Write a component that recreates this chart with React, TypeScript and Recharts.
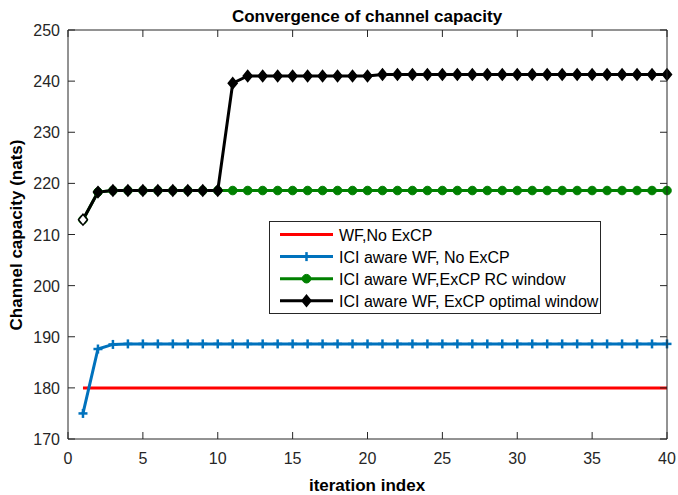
import { LineChart, Line, XAxis, YAxis, Legend, Label } from 'recharts'

const AXIS = '#262626'
const FONT = '"Liberation Sans", Arial, Helvetica, sans-serif'

const CHART_W = 678
const CHART_H = 495
const MARGIN = { top: 30, right: 11, bottom: 0, left: 0 }
const Y_AXIS_W = 68
const X_AXIS_H = 56
const PLOT_LEFT = MARGIN.left + Y_AXIS_W
const PLOT_TOP = MARGIN.top
const PLOT_W = CHART_W - MARGIN.left - MARGIN.right - Y_AXIS_W
const PLOT_H = CHART_H - MARGIN.top - MARGIN.bottom - X_AXIS_H

const iterations = [
  1, 2, 3, 4, 5, 6, 7, 8, 9, 10, 11, 12, 13, 14, 15, 16, 17, 18, 19, 20,
  21, 22, 23, 24, 25, 26, 27, 28, 29, 30, 31, 32, 33, 34, 35, 36, 37, 38, 39, 40,
]

// WF, No ExCP
const wfNoExcp = [
  180, 180, 180, 180, 180, 180, 180, 180, 180, 180, 180, 180, 180, 180, 180, 180, 180, 180, 180, 180,
  180, 180, 180, 180, 180, 180, 180, 180, 180, 180, 180, 180, 180, 180, 180, 180, 180, 180, 180, 180,
]

// ICI aware WF, No ExCP
const iciNoExcp = [
  175.0, 187.6, 188.5, 188.6, 188.6, 188.6, 188.6, 188.6, 188.6, 188.6,
  188.6, 188.6, 188.6, 188.6, 188.6, 188.6, 188.6, 188.6, 188.6, 188.6,
  188.6, 188.6, 188.6, 188.6, 188.6, 188.6, 188.6, 188.6, 188.6, 188.6,
  188.6, 188.6, 188.6, 188.6, 188.6, 188.6, 188.6, 188.6, 188.6, 188.6,
]

// ICI aware WF, ExCP RC window
const iciRcWindow = [
  212.9, 218.3, 218.6, 218.6, 218.6, 218.6, 218.6, 218.6, 218.6, 218.6,
  218.6, 218.6, 218.6, 218.6, 218.6, 218.6, 218.6, 218.6, 218.6, 218.6,
  218.6, 218.6, 218.6, 218.6, 218.6, 218.6, 218.6, 218.6, 218.6, 218.6,
  218.6, 218.6, 218.6, 218.6, 218.6, 218.6, 218.6, 218.6, 218.6, 218.6,
]

// ICI aware WF, ExCP optimal window
const iciOptWindow = [
  212.9, 218.3, 218.6, 218.6, 218.6, 218.6, 218.6, 218.6, 218.6, 218.6,
  239.6, 241.0, 241.0, 241.0, 241.0, 241.0, 241.0, 241.0, 241.0, 241.0,
  241.3, 241.3, 241.3, 241.3, 241.3, 241.3, 241.3, 241.3, 241.3, 241.3,
  241.3, 241.3, 241.3, 241.3, 241.3, 241.3, 241.3, 241.3, 241.3, 241.3,
]

const xTicks = [0, 5, 10, 15, 20, 25, 30, 35, 40]
const yTicks = [170, 180, 190, 200, 210, 220, 230, 240, 250]

const seriesNames = [
  'WF,No ExCP',
  'ICI aware WF, No ExCP',
  'ICI aware WF,ExCP RC window',
  'ICI aware WF, ExCP optimal window',
]

const data = iterations.map((it, i) => ({
  iter: it,
  wf: wfNoExcp[i],
  ici: iciNoExcp[i],
  rc: iciRcWindow[i],
  opt: iciOptWindow[i],
}))

function PlusMark({ cx, cy, color }: any) {
  return (
    <g stroke={color} strokeWidth={2.5}>
      <line x1={cx - 4.5} y1={cy} x2={cx + 4.5} y2={cy} />
      <line x1={cx} y1={cy - 4.5} x2={cx} y2={cy + 4.5} />
    </g>
  )
}

function CircleMark({ cx, cy, color }: any) {
  return <circle cx={cx} cy={cy} r={4.3} fill={color} stroke={color} strokeWidth={1} />
}

function DiamondMark({ cx, cy, color, hollow }: any) {
  const pts = `${cx},${cy - 5.5} ${cx + 4.5},${cy} ${cx},${cy + 5.5} ${cx - 4.5},${cy}`
  return <polygon points={pts} fill={hollow ? '#fff' : color} stroke={color} strokeWidth={1.5} />
}

function BottomTick({ x, y, payload }: any) {
  return (
    <g>
      <line x1={x} y1={y} x2={x} y2={y - 7} stroke={AXIS} />
      <text x={x} y={y + 25} textAnchor="middle" fontSize={16} fill={AXIS} fontFamily={FONT}>
        {payload.value}
      </text>
    </g>
  )
}

function LeftTick({ x, y, payload }: any) {
  return (
    <g>
      <line x1={x} y1={y} x2={x + 7} y2={y} stroke={AXIS} />
      <text x={x - 8} y={y + 6} textAnchor="end" fontSize={16} fill={AXIS} fontFamily={FONT}>
        {payload.value}
      </text>
    </g>
  )
}

// top and right edges of the axes box, with inward ticks (MATLAB "box on")
function BoxEdges() {
  const xLo = xTicks[0]
  const xHi = xTicks[xTicks.length - 1]
  const yLo = yTicks[0]
  const yHi = yTicks[yTicks.length - 1]
  const right = PLOT_LEFT + PLOT_W
  const bottom = PLOT_TOP + PLOT_H
  return (
    <svg
      width={CHART_W}
      height={CHART_H}
      style={{ position: 'absolute', left: 0, top: 0, pointerEvents: 'none' }}
    >
      <g stroke={AXIS} strokeWidth={1}>
        <line x1={PLOT_LEFT} y1={PLOT_TOP} x2={right} y2={PLOT_TOP} />
        <line x1={right} y1={PLOT_TOP} x2={right} y2={bottom} />
        {xTicks.map((t) => {
          const x = PLOT_LEFT + (PLOT_W * (t - xLo)) / (xHi - xLo)
          return <line key={`x${t}`} x1={x} y1={PLOT_TOP} x2={x} y2={PLOT_TOP + 7} />
        })}
        {yTicks.map((t) => {
          const y = bottom - (PLOT_H * (t - yLo)) / (yHi - yLo)
          return <line key={`y${t}`} x1={right} y1={y} x2={right - 7} y2={y} />
        })}
      </g>
    </svg>
  )
}

function LegendBox() {
  const rows = [
    { color: '#ff0000', mark: 'none' },
    { color: '#0072bd', mark: 'plus' },
    { color: '#008000', mark: 'circle' },
    { color: '#000000', mark: 'diamond' },
  ]
  return (
    <svg width={332} height={93} style={{ display: 'block' }}>
      <rect x={0.5} y={0.5} width={331} height={92} fill="#fff" stroke={AXIS} />
      {rows.map((r, i) => {
        const cy = 13.5 + i * 22.1
        return (
          <g key={i}>
            <line x1={11} y1={cy} x2={64} y2={cy} stroke={r.color} strokeWidth={3} />
            {r.mark === 'plus' && <PlusMark cx={37.5} cy={cy} color={r.color} />}
            {r.mark === 'circle' && <CircleMark cx={37.5} cy={cy} color={r.color} />}
            {r.mark === 'diamond' && <DiamondMark cx={37.5} cy={cy} color={r.color} />}
            <text x={70} y={cy + 6} fontSize={16} fill="#000" fontFamily={FONT}>
              {seriesNames[i]}
            </text>
          </g>
        )
      })}
    </svg>
  )
}

export default function App() {
  return (
    <div
      style={{
        position: 'absolute',
        left: 0,
        top: 0,
        width: CHART_W,
        height: CHART_H,
        fontFamily: FONT,
        background: '#fff',
      }}
    >
      <LineChart width={CHART_W} height={CHART_H} data={data} margin={MARGIN}>
        <XAxis
          xAxisId="bottom"
          dataKey="iter"
          type="number"
          domain={[0, 40]}
          ticks={xTicks}
          height={X_AXIS_H}
          tickSize={0}
          tickMargin={0}
          tickLine={false}
          axisLine={{ stroke: AXIS }}
          tick={<BottomTick />}
          interval={0}
        >
          <Label
            content={() => (
              <text x={367} y={491} textAnchor="middle" fontSize={17} fontWeight="bold" fill="#000" fontFamily={FONT}>
                iteration index
              </text>
            )}
          />
        </XAxis>
        <YAxis
          yAxisId="left"
          type="number"
          domain={[170, 250]}
          ticks={yTicks}
          width={Y_AXIS_W}
          tickSize={0}
          tickMargin={0}
          tickLine={false}
          axisLine={{ stroke: AXIS }}
          tick={<LeftTick />}
          interval={0}
        >
          <Label
            content={() => (
              <g>
                <text
                  transform="translate(22,235) rotate(-90)"
                  textAnchor="middle"
                  fontSize={17}
                  fontWeight="bold"
                  fill="#000"
                  fontFamily={FONT}
                >
                  Channel capacity (nats)
                </text>
                <text x={367} y={22} textAnchor="middle" fontSize={17} fontWeight="bold" fill="#000" fontFamily={FONT}>
                  Convergence of channel capacity
                </text>
              </g>
            )}
          />
        </YAxis>
        <Legend
          layout="vertical"
          align="center"
          verticalAlign="middle"
          wrapperStyle={{ left: 269, top: 221, width: 332, height: 93 }}
          content={() => <LegendBox />}
        />
        <Line
          xAxisId="bottom"
          yAxisId="left"
          type="linear"
          dataKey="wf"
          name={seriesNames[0]}
          stroke="#ff0000"
          strokeWidth={3}
          dot={false}
          activeDot={false}
          isAnimationActive={false}
        />
        <Line
          xAxisId="bottom"
          yAxisId="left"
          type="linear"
          dataKey="ici"
          name={seriesNames[1]}
          stroke="#0072bd"
          strokeWidth={3}
          dot={(p: any) => <PlusMark key={p.index} cx={p.cx} cy={p.cy} color="#0072bd" />}
          activeDot={false}
          isAnimationActive={false}
        />
        <Line
          xAxisId="bottom"
          yAxisId="left"
          type="linear"
          dataKey="rc"
          name={seriesNames[2]}
          stroke="#008000"
          strokeWidth={3}
          dot={(p: any) => <CircleMark key={p.index} cx={p.cx} cy={p.cy} color="#008000" />}
          activeDot={false}
          isAnimationActive={false}
        />
        <Line
          xAxisId="bottom"
          yAxisId="left"
          type="linear"
          dataKey="opt"
          name={seriesNames[3]}
          stroke="#000000"
          strokeWidth={3}
          dot={(p: any) => (
            <DiamondMark key={p.index} cx={p.cx} cy={p.cy} color="#000000" hollow={p.index === 0} />
          )}
          activeDot={false}
          isAnimationActive={false}
        />
      </LineChart>
      <BoxEdges />
    </div>
  )
}
